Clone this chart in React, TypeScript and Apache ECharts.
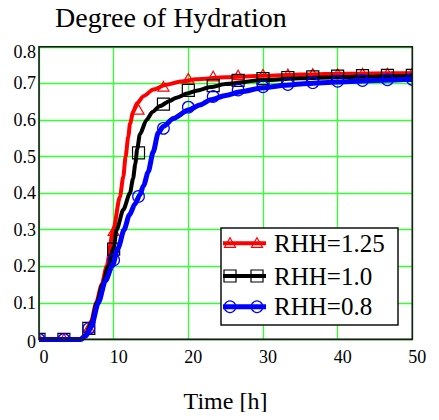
import React, { useEffect, useRef } from "react";
import * as echarts from "echarts";

const FONT = "Liberation Serif, Times New Roman, serif";
const GREEN = "#33ff33";
const RED = "#ff0000";
const BLACK = "#000000";
const BLUE = "#0000ff";

const TITLE = "Degree of Hydration";
const X_NAME = "Time [h]";
const LEGEND_NAMES = ["RHH=1.25", "RHH=1.0", "RHH=0.8"];

// Marker sample times (h)
const MARK_T = [0, 3.33, 6.67, 10, 13.33, 16.67, 20, 23.33, 26.67, 30, 33.33, 36.67, 40, 43.33, 46.67, 50];
const RED_MARK_V = [0, 0, 0.03, 0.295, 0.627, 0.69, 0.712, 0.718, 0.721, 0.723, 0.724, 0.725, 0.725, 0.726, 0.726, 0.727];
const BLACK_MARK_V = [0, 0, 0.03, 0.247, 0.51, 0.643, 0.681, 0.694, 0.708, 0.713, 0.716, 0.718, 0.72, 0.721, 0.722, 0.722];
const BLUE_MARK_V = [0, 0, 0.03, 0.217, 0.391, 0.577, 0.635, 0.664, 0.682, 0.691, 0.697, 0.702, 0.706, 0.708, 0.71, 0.711];

// Curves (t, value)
const RED_T = [0, 5.5, 6.2, 7, 7.65, 8.4, 9.06, 9.95, 10.84, 11.29, 11.6, 11.96, 12.2, 12.6, 13.1, 14, 15.3, 17, 19, 21, 25, 30, 35, 40, 45, 50];
const RED_V = [0, 0, 0.012, 0.05, 0.1, 0.15, 0.2, 0.3, 0.39, 0.445, 0.5, 0.555, 0.59, 0.622, 0.645, 0.665, 0.683, 0.696, 0.705, 0.711, 0.717, 0.721, 0.724, 0.726, 0.727, 0.728];
const BLACK_T = [0, 5.5, 6.2, 7, 7.75, 8.5, 9.28, 10, 10.4, 11.3, 12.18, 12.6, 12.9, 13.15, 13.5, 14.4, 15.2, 16.2, 17.5, 18.4, 20, 21.1, 23, 25, 30, 35, 40, 45, 50];
const BLACK_V = [0, 0, 0.01, 0.045, 0.1, 0.15, 0.2, 0.25, 0.3, 0.355, 0.4, 0.44, 0.48, 0.52, 0.56, 0.6, 0.622, 0.638, 0.652, 0.661, 0.673, 0.68, 0.69, 0.698, 0.709, 0.714, 0.717, 0.719, 0.72];
const BLUE_T = [0, 5.6, 6.3, 7, 7.95, 8.9, 9.8, 10.6, 11.4, 12.1, 12.85, 13.5, 14, 14.63, 15.3, 15.97, 16.64, 18, 20, 21.55, 23, 25, 27, 30, 33, 36, 40, 45, 50];
const BLUE_V = [0, 0, 0.01, 0.035, 0.1, 0.16, 0.2, 0.25, 0.3, 0.34, 0.37, 0.395, 0.42, 0.458, 0.513, 0.565, 0.582, 0.604, 0.627, 0.641, 0.655, 0.667, 0.677, 0.688, 0.695, 0.7, 0.704, 0.708, 0.711];

const GRID = { left: 39, top: 46.8, width: 373.3, height: 292.6 };

const zip = (a: number[], b: number[]) => a.map((t, i) => [t, b[i]]);

function markerShape(kind: string, x: number, y: number, color: string) {
  const style = { fill: "none", stroke: color, lineWidth: 1.2 };
  if (kind === "triangle") {
    return { type: "polygon", shape: { points: [[x, y - 5.5], [x + 5.5, y + 4], [x - 5.5, y + 4]] }, style };
  }
  if (kind === "square") {
    return { type: "rect", shape: { x: x - 6, y: y - 6, width: 12, height: 12 }, style };
  }
  return { type: "circle", shape: { cx: x, cy: y, r: 5.8 }, style };
}

function lineSeries(t: number[], v: number[], color: string, width: number, z: number) {
  return {
    type: "line",
    data: zip(t, v),
    showSymbol: false,
    symbol: "none",
    smooth: 0.25,
    smoothMonotone: "x",
    clip: true,
    z,
    lineStyle: { color, width },
  };
}

function markSeries(v: number[], kind: string, color: string, z: number) {
  return {
    type: "custom",
    data: zip(MARK_T, v),
    clip: true,
    z,
    renderItem: (_p: any, api: any) => {
      const pt = api.coord([api.value(0), api.value(1)]);
      return markerShape(kind, pt[0], pt[1], color);
    },
  };
}

export default function App() {
  const ref = useRef<HTMLDivElement>(null);
  useEffect(() => {
    if (!ref.current) return;
    const chart = echarts.init(ref.current, undefined, { renderer: "svg" });
    const legendRows = [
      { y: 243.3, color: RED, kind: "triangle", w: 4 },
      { y: 276, color: BLACK, kind: "square", w: 4 },
      { y: 306.7, color: BLUE, kind: "circle", w: 5 },
    ];
    const legendEls: any[] = [
      {
        type: "rect",
        z: 100,
        shape: { x: 221, y: 228, width: 177, height: 97 },
        style: { fill: "#ffffff", stroke: "#111111", lineWidth: 1.5 },
      },
    ];
    legendRows.forEach((r, i) => {
      legendEls.push({
        type: "line",
        z: 101,
        shape: { x1: 223, y1: r.y, x2: 266, y2: r.y },
        style: { stroke: r.color, lineWidth: r.w },
      });
      [230, 257].forEach((mx) => {
        const m: any = markerShape(r.kind, mx, r.y, r.color);
        m.z = 102;
        legendEls.push(m);
      });
      legendEls.push({
        type: "text",
        z: 102,
        style: {
          x: 274,
          y: r.y,
          text: LEGEND_NAMES[i],
          fontFamily: FONT,
          fontSize: 25,
          fill: "#000",
          verticalAlign: "middle",
          align: "left",
        },
      });
    });

    const option: any = {
      animation: false,
      backgroundColor: "#ffffff",
      textStyle: { fontFamily: FONT },
      grid: { ...GRID, containLabel: false },
      xAxis: {
        type: "value",
        min: 0,
        max: 50,
        interval: 10,
        axisLine: { show: false },
        axisTick: { show: false },
        splitLine: { show: true, lineStyle: { color: GREEN, width: 1.3 } },
        axisLabel: {
          fontFamily: FONT,
          fontSize: 18,
          color: "#000",
          margin: 9,
          padding: [0, 0, 0, 10],
        },
      },
      yAxis: {
        type: "value",
        min: 0,
        max: 0.8,
        interval: 0.1,
        axisLine: { show: false },
        axisTick: { show: false },
        splitLine: { show: true, lineStyle: { color: GREEN, width: 1.3 } },
        axisLabel: {
          fontFamily: FONT,
          fontSize: 18,
          color: "#000",
          margin: 3,
          formatter: (v: number) => {
            if (Math.abs(v) < 1e-9) return "{b|0}";
            const s = v.toFixed(1);
            return v > 0.75 ? "{t|" + s + "}" : s;
          },
          rich: {
            t: { fontFamily: FONT, fontSize: 18, color: "#000", padding: [10, 0, 0, 0] },
            b: { fontFamily: FONT, fontSize: 18, color: "#000", padding: [6, 0, 0, 0] },
          },
        },
      },
      series: [
        lineSeries(RED_T, RED_V, RED, 4, 2),
        markSeries(RED_MARK_V, "triangle", RED, 3),
        lineSeries(BLACK_T, BLACK_V, BLACK, 4, 4),
        markSeries(BLACK_MARK_V, "square", BLACK, 5),
        lineSeries(BLUE_T, BLUE_V, BLUE, 5, 6),
        markSeries(BLUE_MARK_V, "circle", BLUE, 7),
      ],
      graphic: [
        {
          type: "text",
          z: 100,
          style: {
            x: 55,
            y: 17.3,
            text: TITLE,
            fontFamily: FONT,
            fontSize: 28,
            fill: "#000",
            verticalAlign: "middle",
            align: "left",
          },
        },
        {
          type: "text",
          z: 100,
          style: {
            x: 225.5,
            y: 400.9,
            text: X_NAME,
            fontFamily: FONT,
            fontSize: 24,
            fill: "#000",
            verticalAlign: "middle",
            align: "center",
          },
        },
        {
          type: "rect",
          z: 100,
          shape: { x: GRID.left, y: GRID.top, width: GRID.width, height: GRID.height },
          style: { fill: "none", stroke: "#1a1a1a", lineWidth: 1.6 },
        },
        ...legendEls,
      ],
    };
    chart.setOption(option);
    return () => chart.dispose();
  }, []);
  return <div ref={ref} style={{ width: 439, height: 420, margin: -8 }} />;
}
